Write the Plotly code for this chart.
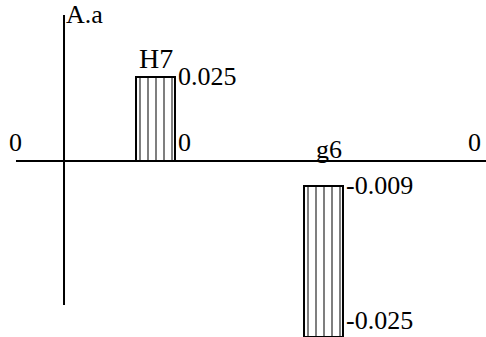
import plotly.graph_objects as go

# Data
zones = ["H7", "g6"]
upper_dev = [0.025, -0.009]
lower_dev = [0.0, -0.025]
axis_label = "A.a"
zero_label = "0"

FONT = dict(family="Liberation Serif, Times New Roman, serif", size=26, color="black")
BAR_W = 0.232

fig = go.Figure()

pattern = dict(shape="|", size=8, solidity=0.25, fgcolor="black", bgcolor="white")

# Hole zone (H7) on y, shaft zone (g6) on y2 (schematic drawing, not to scale)
fig.add_trace(go.Bar(
    x=[zones[0]], y=[upper_dev[0] - lower_dev[0]], base=[lower_dev[0]],
    width=BAR_W, yaxis="y",
    marker=dict(color="white", pattern=pattern, line=dict(color="black", width=2)),
    showlegend=False, hoverinfo="skip",
))
fig.add_trace(go.Bar(
    x=[zones[1]], y=[lower_dev[1] - upper_dev[1]], base=[upper_dev[1]],
    width=BAR_W, yaxis="y2",
    marker=dict(color="white", pattern=pattern, line=dict(color="black", width=2)),
    showlegend=False, hoverinfo="skip",
))

annotations = []
yrefs = ["y", "y2"]
for i, z in enumerate(zones):
    yr = yrefs[i]
    annotations.append(dict(
        x=i + BAR_W / 2, y=upper_dev[i], xref="x", yref=yr,
        text=f"{upper_dev[i]:g}" if upper_dev[i] != 0 else "0",
        xanchor="left", yanchor="middle", showarrow=False, font=FONT,
        xshift=1, yshift=1,
    ))
    if lower_dev[i] == 0:
        annotations.append(dict(
            x=i + BAR_W / 2, y=lower_dev[i], xref="x", yref=yr,
            text="0", xanchor="left", yanchor="bottom", showarrow=False,
            font=FONT, xshift=1, yshift=2,
        ))
    else:
        annotations.append(dict(
            x=i + BAR_W / 2, y=lower_dev[i], xref="x", yref=yr,
            text=f"{lower_dev[i]:g}", xanchor="left", yanchor="bottom",
            showarrow=False, font=FONT, xshift=1, yshift=0,
        ))

annotations.append(dict(
    x=0, y=upper_dev[0], xref="x", yref="y", text=zones[0],
    xanchor="center", yanchor="bottom", showarrow=False,
    font=dict(FONT, size=28), yshift=1,
))
annotations.append(dict(
    x=1, y=0, xref="x", yref="y", text=zones[1],
    xanchor="center", yanchor="bottom", showarrow=False,
    font=FONT, xshift=5, yshift=-5,
))
annotations.append(dict(
    x=0.031, y=0, xref="paper", yref="y", text=zero_label,
    xanchor="center", yanchor="bottom", showarrow=False, font=FONT, yshift=2,
))
annotations.append(dict(
    x=0.977, y=0, xref="paper", yref="y", text=zero_label,
    xanchor="center", yanchor="bottom", showarrow=False, font=FONT, yshift=2,
))
annotations.append(dict(
    x=-0.5446, y=1, xref="x", yref="paper", text=axis_label,
    xanchor="left", yanchor="top", showarrow=False, font=FONT, xshift=0, yshift=2,
))

shapes = [
    dict(type="line", xref="x", yref="y", x0=-0.8304, x1=1.98, y0=0, y1=0,
         line=dict(color="black", width=2)),
    dict(type="line", xref="x", yref="paper", x0=-0.5446, x1=-0.5446,
         y0=0.095, y1=0.9555, line=dict(color="black", width=2)),
]

fig.update_layout(
    width=486, height=337,
    margin=dict(l=0, r=0, t=0, b=0),
    paper_bgcolor="white", plot_bgcolor="white",
    barmode="overlay",
    xaxis=dict(type="category", range=[-0.9256, 1.96726], visible=False,
               fixedrange=True),
    yaxis=dict(range=[-0.052381, 0.047917], visible=False, fixedrange=True),
    yaxis2=dict(range=[-0.025, 0.010709], visible=False, overlaying="y",
                fixedrange=True),
    annotations=annotations,
    shapes=shapes,
    showlegend=False,
)

fig.write_html(
    "out.html",
    config={"displayModeBar": False},
    post_script="document.body.style.margin='0';document.body.style.overflow='hidden';",
)
